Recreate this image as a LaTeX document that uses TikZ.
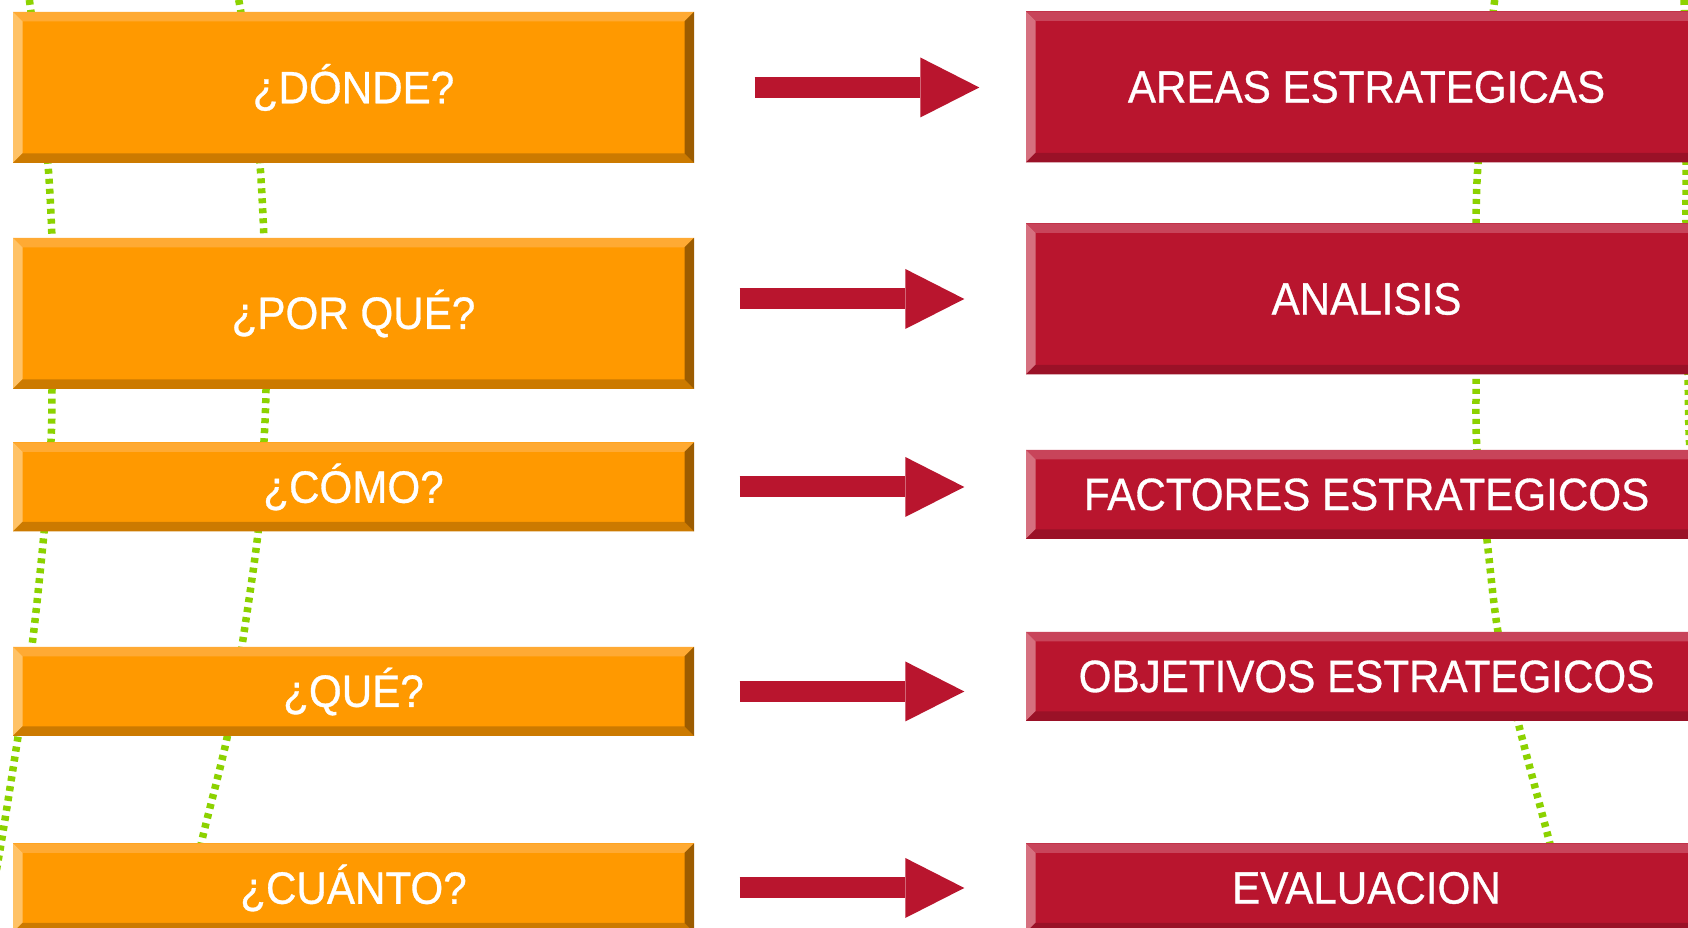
\documentclass[tikz,border=0pt]{standalone}
\usepackage{fontspec}
\setmainfont{Liberation Sans}[FakeStretch=0.93, FakeBold=0.7]
\usetikzlibrary{arrows.meta, calc}
\definecolor{boxorange}{HTML}{FF9900}
\definecolor{orangetop}{HTML}{FFAA33}
\definecolor{orangeleft}{HTML}{FFC266}
\definecolor{orangebottom}{HTML}{CC7A00}
\definecolor{orangeright}{HTML}{9C5C00}
\definecolor{boxred}{HTML}{B9152E}
\definecolor{redtop}{HTML}{C8445A}
\definecolor{redleft}{HTML}{D6707F}
\definecolor{redbottom}{HTML}{9A1127}
\definecolor{redright}{HTML}{7B0D1F}
\definecolor{vinegreen}{HTML}{8CD200}

\tikzset{
  bevelled/.style n args={4}{path picture={
      \def\bv{0.095}
      % top, left, bottom, right edges
      \fill[#1] (path picture bounding box.north west) -- (path picture bounding box.north east)
        -- ([shift={(-\bv,-\bv)}]path picture bounding box.north east)
        -- ([shift={(\bv,-\bv)}]path picture bounding box.north west) -- cycle;
      \fill[#2] (path picture bounding box.north west) -- ([shift={(\bv,-\bv)}]path picture bounding box.north west)
        -- ([shift={(\bv,\bv)}]path picture bounding box.south west)
        -- (path picture bounding box.south west) -- cycle;
      \fill[#3] (path picture bounding box.south west) -- ([shift={(\bv,\bv)}]path picture bounding box.south west)
        -- ([shift={(-\bv,\bv)}]path picture bounding box.south east)
        -- (path picture bounding box.south east) -- cycle;
      \fill[#4] (path picture bounding box.south east) -- ([shift={(-\bv,\bv)}]path picture bounding box.south east)
        -- ([shift={(-\bv,-\bv)}]path picture bounding box.north east)
        -- (path picture bounding box.north east) -- cycle;
    }},
  basebox/.style={minimum width=6.81cm, inner sep=0pt, text=white,
    font=\fontsize{12.9}{15}\selectfont},
  obox/.style={basebox, fill=boxorange, bevelled={orangetop}{orangeleft}{orangebottom}{orangeright}},
  rbox/.style={basebox, fill=boxred, bevelled={redtop}{redleft}{redbottom}{redright}},
  tallbox/.style={minimum height=1.51cm},
  shortbox/.style={minimum height=0.89cm},
  bigarrow/.style={draw=boxred, line width=0.21cm,
    -{Triangle[length=0.59cm, width=0.60cm, line width=0pt]}},
  vine/.style={vinegreen, line width=0.075cm, dash pattern=on 0.05cm off 0.05cm}
}

\begin{document}
\begin{tikzpicture}
\useasboundingbox (0,0) rectangle (16.88,9.28);
\fill[white] (0,0) rectangle (16.88,9.28);
\clip (0,0) rectangle (16.88,9.28);

% Green dotted lines behind the boxes
\draw[vine] plot[smooth] coordinates {(0.28,9.38) (0.40,8.48) (0.48,7.64) (0.52,6.89) (0.53,6.14)
  (0.52,5.38) (0.51,4.87) (0.44,3.95) (0.32,2.82) (0.18,1.91) (0.0,0.78) (-0.15,-0.02)};
\draw[vine] plot[smooth] coordinates {(2.37,9.38) (2.52,8.48) (2.60,7.64) (2.64,6.89) (2.66,6.14)
  (2.66,5.38) (2.64,4.87) (2.58,3.95) (2.42,2.82) (2.27,1.90) (2.02,0.88) (1.95,0.48)};
\draw[vine] plot[smooth] coordinates {(14.96,9.38) (14.85,8.48) (14.78,7.64) (14.76,7.04) (14.76,5.53)
  (14.77,4.78) (14.87,3.88) (14.98,2.96) (15.18,2.06) (15.50,0.84) (15.60,0.38)};
\draw[vine] plot[smooth] coordinates {(16.84,9.38) (16.86,7.64) (16.86,7.04) (16.88,5.53)
  (16.90,4.78) (17.00,3.88)};

% Left column
\node[obox, tallbox] (o1) at (3.535,8.405) {¿DÓNDE?};
\node[obox, tallbox] (o2) at (3.535,6.145) {¿POR QUÉ?};
\node[obox, shortbox] (o3) at (3.535,4.41) {¿CÓMO?};
\node[obox, shortbox] (o4) at (3.535,2.365) {¿QUÉ?};
\node[obox, shortbox] (o5) at (3.535,0.40) {¿CUÁNTO?};

% Right column
\node[rbox, tallbox] (r1) at (13.665,8.41) {AREAS ESTRATEGICAS};
\node[rbox, tallbox] (r2) at (13.665,6.29) {ANALISIS};
\node[rbox, shortbox] (r3) at (13.665,4.335) {FACTORES ESTRATEGICOS};
\node[rbox, shortbox] (r4) at (13.665,2.515) {OBJETIVOS ESTRATEGICOS};
\node[rbox, shortbox] (r5) at (13.665,0.40) {EVALUACION};

% Arrows
\draw[bigarrow] ($(o1.east)+(0.60,0)$) -- ($(o1.east -| r1.west)+(-0.46,0)$);
\draw[bigarrow] ($(r2.west -| o2.east)+(0.45,0)$) -- ($(r2.west)+(-0.61,0)$);
\draw[bigarrow] ($(o3.east)+(0.45,0)$) -- ($(o3.east -| r3.west)+(-0.61,0)$);
\draw[bigarrow] ($(o4.east)+(0.45,0)$) -- ($(o4.east -| r4.west)+(-0.61,0)$);
\draw[bigarrow] ($(o5.east)+(0.45,0)$) -- ($(o5.east -| r5.west)+(-0.61,0)$);

\end{tikzpicture}
\end{document}
